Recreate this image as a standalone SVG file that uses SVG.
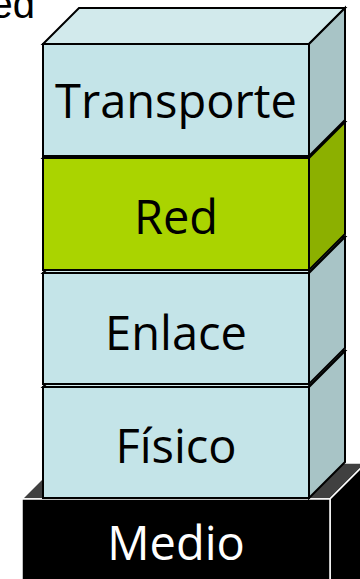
<svg xmlns="http://www.w3.org/2000/svg" width="360" height="579" viewBox="0 0 360 579">
<style>
.lb{stroke:#000;stroke-width:2;stroke-linejoin:miter}
.ft{fill:#c4e4e8}.tp{fill:#d2eaec}.rt{fill:#a8c4c6}
.gft{fill:#aad400}.grt{fill:#8cb000}
.md{stroke:#fff;stroke-width:1.5}
.t{font-family:"Open Sans","DejaVu Sans",sans-serif;font-size:47px;text-anchor:middle;fill:#000}
</style>
<rect width="360" height="579" fill="#fff"/>
<text x="35" y="18" font-family="Liberation Sans, Arial, sans-serif" font-size="40" text-anchor="end" fill="#000">ed</text>
<g id="medio">
<polygon class="md" fill="#404040" points="22,499 58,463 366,463 330,499"/>
<polygon class="md" fill="#000" points="330,499 366,463 366,585 330,585"/>
<rect class="md" fill="#000" x="22" y="499" width="308" height="86"/>
<text class="t" x="176" y="560" style="fill:#fff">Medio</text>
</g>
<g id="fisico">
<polygon class="lb tp" points="43,387 79,351 345,351 309,387"/>
<polygon class="lb rt" points="309,387 345,351 345,462 309,498"/>
<rect class="lb ft" x="43" y="387" width="266" height="111"/>
<text class="t" x="176" y="463">Físico</text>
</g>
<g id="enlace">
<polygon class="lb tp" points="43,273 79,237 345,237 309,273"/>
<polygon class="lb rt" points="309,273 345,237 345,348 309,384"/>
<rect class="lb ft" x="43" y="273" width="266" height="111"/>
<text class="t" x="176" y="350">Enlace</text>
</g>
<g id="red">
<polygon class="lb gft" points="43,158 79,122 345,122 309,158"/>
<polygon class="lb grt" points="309,158 345,122 345,234 309,270"/>
<rect class="lb gft" x="43" y="158" width="266" height="112"/>
<text class="t" x="176" y="234">Red</text>
</g>
<g id="transporte">
<polygon class="lb tp" points="43,44 79,8 345,8 309,44"/>
<polygon class="lb rt" points="309,44 345,8 345,120 309,156"/>
<rect class="lb ft" x="43" y="44" width="266" height="112"/>
<text class="t" x="176" y="118">Transporte</text>
</g>
<g id="connectors"></g>
</svg>
